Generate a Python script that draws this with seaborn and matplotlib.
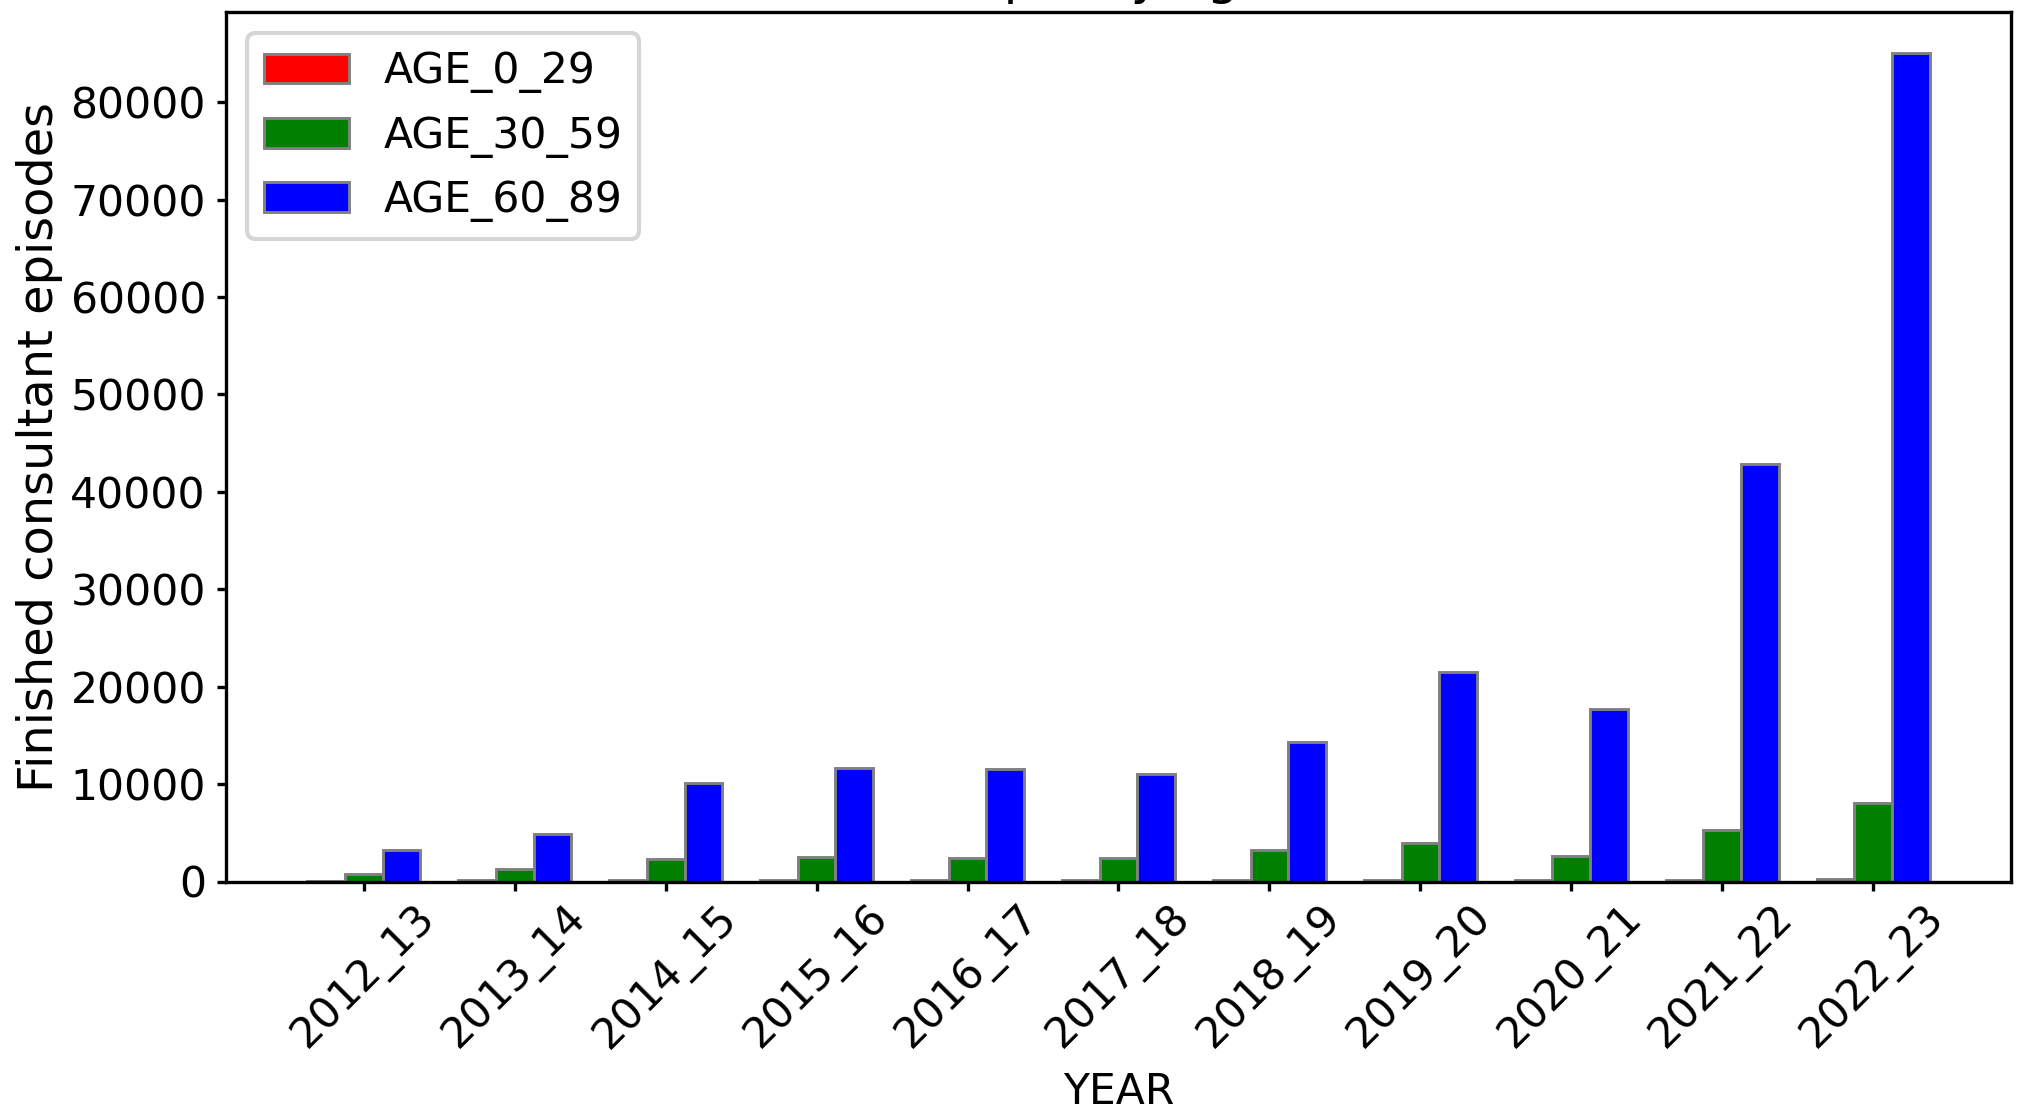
import pandas as pd
import seaborn as sns
import matplotlib.pyplot as plt
from matplotlib.patches import Patch

years = ["2012_13", "2013_14", "2014_15", "2015_16", "2016_17", "2017_18",
         "2018_19", "2019_20", "2020_21", "2021_22", "2022_23"]
age_0_29 = [60, 110, 150, 130, 140, 130, 150, 160, 120, 190, 230]
age_30_59 = [790, 1250, 2280, 2550, 2430, 2400, 3280, 4000, 2620, 5320, 8050]
age_60_89 = [3200, 4900, 10100, 11600, 11550, 11050, 14350, 21550, 17700, 42900, 85000]
groups = ["AGE_0_29", "AGE_30_59", "AGE_60_89"]
colors = ["red", "green", "blue"]

# long format for seaborn
df = pd.DataFrame({"YEAR": years, "AGE_0_29": age_0_29,
                   "AGE_30_59": age_30_59, "AGE_60_89": age_60_89})
df = df.melt(id_vars="YEAR", var_name="age", value_name="episodes")

fig = plt.figure(figsize=(2017 / 300, 1110 / 300), dpi=300)
ax = fig.add_axes([226 / 2017, 1 - 881.5 / 1110, (2011 - 226) / 2017, (881.5 - 12) / 1110])

sns.barplot(data=df, x="YEAR", y="episodes", hue="age", hue_order=groups,
            palette=colors, saturation=1, width=0.75, edgecolor="grey",
            linewidth=0.7, errorbar=None, ax=ax)

# same margins as a plain matplotlib bar chart
ax.set_xlim(-0.375 - 0.05 * 10.75, 10.375 + 0.05 * 10.75)
ax.set_xlabel("YEAR", fontsize=10.2, labelpad=3.4)
ax.set_ylabel("Finished consultant episodes", fontsize=11.5, labelpad=1.8)
ax.tick_params(axis="both", labelsize=10.2, length=2.2)
ax.tick_params(axis="x", rotation=45, pad=1.5)
ax.tick_params(axis="y", pad=2.6)
ax.set_title("Top 5 by age ", pad=4.4)

handles = [Patch(facecolor=c, edgecolor="grey", linewidth=0.7) for c in colors]
ax.legend(handles, groups, loc="upper left", fontsize=10.2)

fig.savefig("out.png", dpi=300)
